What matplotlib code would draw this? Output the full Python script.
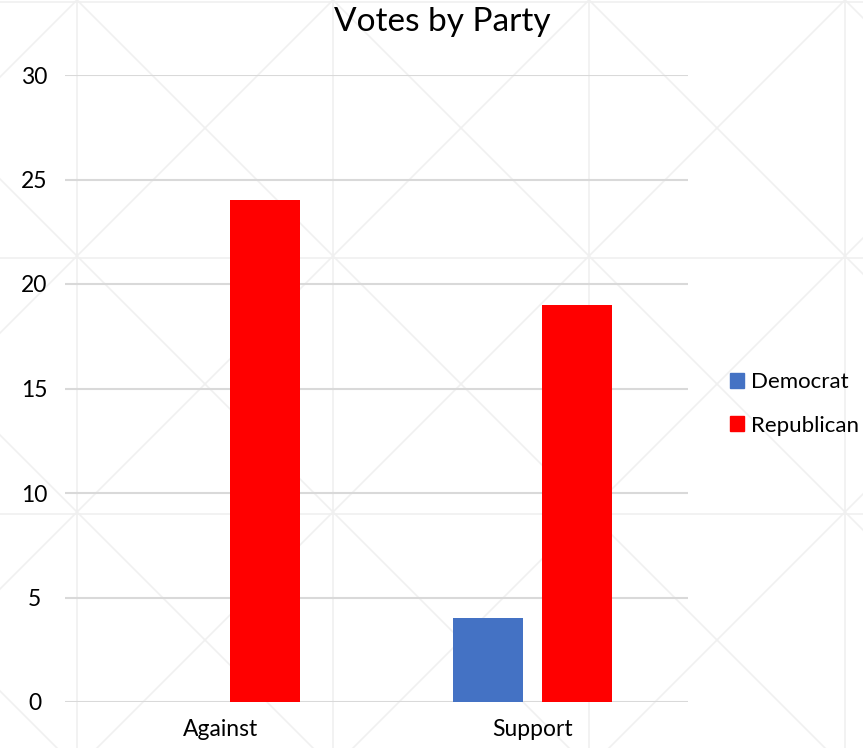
import matplotlib.pyplot as plt
import numpy as np
from matplotlib.lines import Line2D
from matplotlib.patches import Patch

plt.rcParams["font.family"] = ["Lato", "DejaVu Sans"]

categories = ["Against", "Support"]
parties = ["Democrat", "Republican"]
democrat = [0, 4]
republican = [24, 19]
colors = {"Democrat": "#4472C4", "Republican": "#FF0000"}

W, H = 863, 748
fig = plt.figure(figsize=(W / 100, H / 100), dpi=100)
fig.patch.set_facecolor("white")

# faint watermark pattern: square tiles with an X in each
pat = dict(color="#f0f0f0", lw=1.2, zorder=0)
for k in range(-1, 5):
    x = 77 + 256 * k
    fig.add_artist(Line2D([x / W, x / W], [0, 1], **pat))
    y = 2 + 256 * k
    fig.add_artist(Line2D([0, 1], [1 - y / H, 1 - y / H], **pat))
for k in range(-4, 8):
    c = 77 + 256 * k
    # x - y = c  and  x + y = c  (pixel coords, y from top)
    xs = np.array([-100, W + 100])
    fig.add_artist(Line2D(xs / W, 1 - (xs - c) / H, **pat))
    fig.add_artist(Line2D(xs / W, 1 - (c - xs) / H, **pat))

ax = fig.add_axes([65 / W, 46 / H, (688 - 65) / W, (702 - 75) / H])
ax.set_facecolor("none")

x = np.arange(len(categories))
width = 0.225
off = 0.143
ax.bar(x - off, democrat, width, color=colors["Democrat"], zorder=3)
ax.bar(x + off, republican, width, color=colors["Republican"], zorder=3)

ax.set_xlim(-0.5, len(categories) - 0.5)
ax.set_ylim(0, 30)
ax.set_yticks(np.arange(0, 31, 5))
ax.set_xticks(x)
ax.set_xticklabels(categories)
ax.grid(axis="y", color="#d9d9d9", lw=1.5, zorder=1)
ax.set_axisbelow(True)
for s in ax.spines.values():
    s.set_visible(False)
ax.tick_params(length=0, labelsize=16.5, colors="black")
ax.tick_params(axis="x", pad=12)
ax.yaxis.set_tick_params(pad=22)
for lab in ax.get_yticklabels():
    lab.set_horizontalalignment("center")

fig.text(442 / W, 1 - 22 / H, "Votes by Party", ha="center", va="center", fontsize=24)

handles = [Patch(color=colors[p]) for p in parties]
fig.legend(handles, parties, loc="center left", bbox_to_anchor=(721 / W, 1 - 404 / H),
           frameon=False, fontsize=16, handlelength=0.65, handleheight=0.65,
           handletextpad=0.3, labelspacing=1.05, borderaxespad=0)

fig.savefig("out.png", dpi=100)
